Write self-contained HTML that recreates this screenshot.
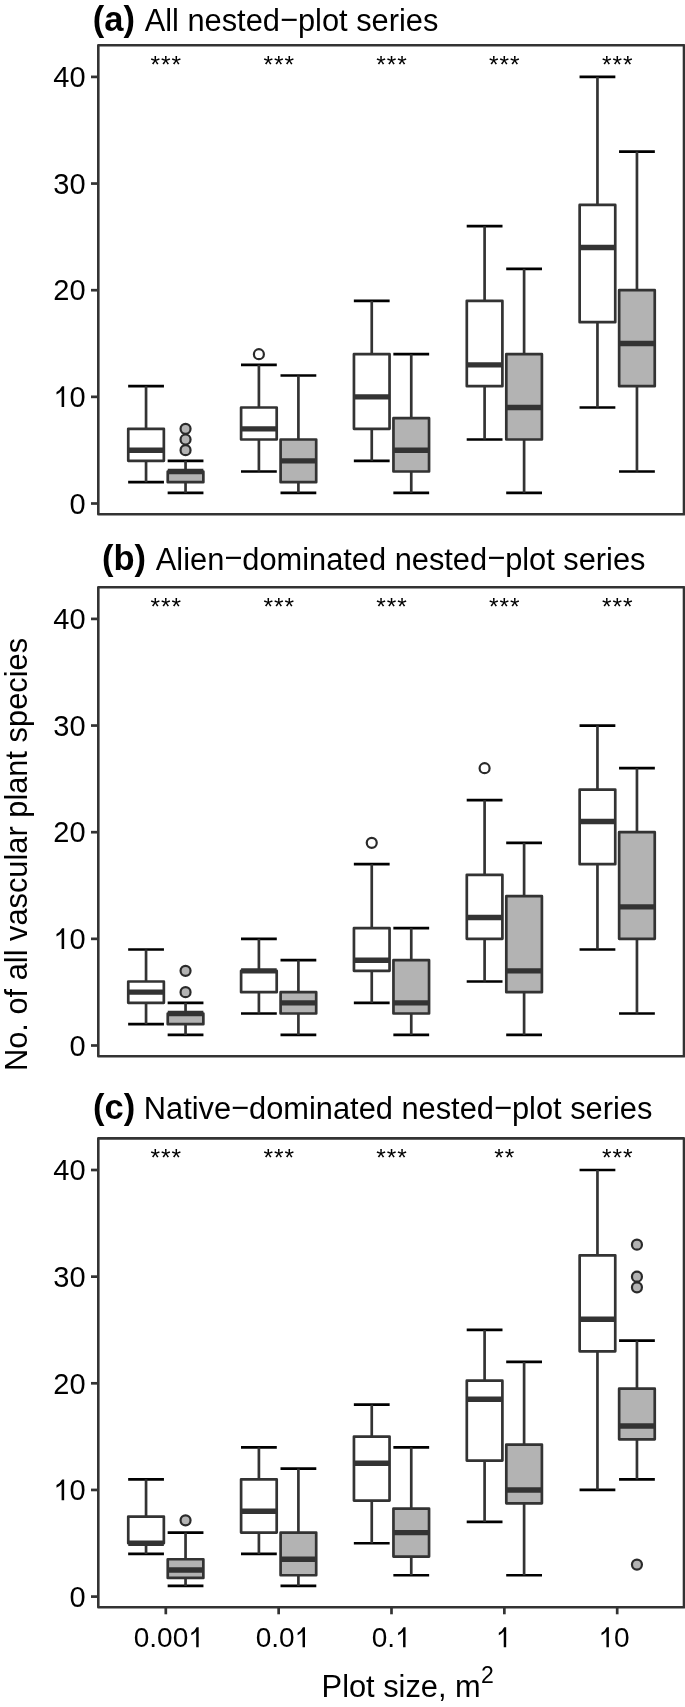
<!DOCTYPE html>
<html><head><meta charset="utf-8"><style>
html,body{margin:0;padding:0;background:#fff;}
svg{display:block;will-change:transform;}
</style></head><body>
<svg width="685" height="1707" viewBox="0 0 685 1707">
<rect x="0" y="0" width="685" height="1707" fill="#ffffff"/>
<line x1="128.15" x2="163.95" y1="386.19" y2="386.19" stroke="#000" stroke-width="2.7"/>
<line x1="128.15" x2="163.95" y1="482.17" y2="482.17" stroke="#000" stroke-width="2.7"/>
<line x1="146.05" x2="146.05" y1="386.19" y2="428.85" stroke="#333333" stroke-width="2.7"/>
<line x1="146.05" x2="146.05" y1="460.84" y2="482.17" stroke="#333333" stroke-width="2.7"/>
<rect x="128.25" y="428.85" width="35.6" height="32" fill="#ffffff" stroke="#333333" stroke-width="2.7" stroke-linejoin="round"/>
<line x1="128.25" x2="163.85" y1="450.18" y2="450.18" stroke="#333333" stroke-width="5.4"/>
<line x1="167.65" x2="203.45" y1="460.84" y2="460.84" stroke="#000" stroke-width="2.7"/>
<line x1="167.65" x2="203.45" y1="492.83" y2="492.83" stroke="#000" stroke-width="2.7"/>
<line x1="185.55" x2="185.55" y1="460.84" y2="471.5" stroke="#333333" stroke-width="2.7"/>
<line x1="185.55" x2="185.55" y1="482.17" y2="492.83" stroke="#333333" stroke-width="2.7"/>
<rect x="167.75" y="471.5" width="35.6" height="10.67" fill="#B3B3B3" stroke="#333333" stroke-width="2.7" stroke-linejoin="round"/>
<line x1="167.75" x2="203.35" y1="471.5" y2="471.5" stroke="#333333" stroke-width="5.4"/>
<circle cx="185.55" cy="450.18" r="5.0" fill="#B3B3B3" stroke="#2a2a2a" stroke-width="2.2"/>
<circle cx="185.55" cy="439.51" r="5.0" fill="#B3B3B3" stroke="#2a2a2a" stroke-width="2.2"/>
<circle cx="185.55" cy="428.85" r="5.0" fill="#B3B3B3" stroke="#2a2a2a" stroke-width="2.2"/>
<text x="155.3" y="73.25" text-anchor="middle" font-family="Liberation Sans" font-size="24.5">*</text>
<text x="165.8" y="73.25" text-anchor="middle" font-family="Liberation Sans" font-size="24.5">*</text>
<text x="176.3" y="73.25" text-anchor="middle" font-family="Liberation Sans" font-size="24.5">*</text>
<line x1="241" x2="276.8" y1="364.86" y2="364.86" stroke="#000" stroke-width="2.7"/>
<line x1="241" x2="276.8" y1="471.5" y2="471.5" stroke="#000" stroke-width="2.7"/>
<line x1="258.9" x2="258.9" y1="364.86" y2="407.51" stroke="#333333" stroke-width="2.7"/>
<line x1="258.9" x2="258.9" y1="439.51" y2="471.5" stroke="#333333" stroke-width="2.7"/>
<rect x="241.1" y="407.51" width="35.6" height="32" fill="#ffffff" stroke="#333333" stroke-width="2.7" stroke-linejoin="round"/>
<line x1="241.1" x2="276.7" y1="428.85" y2="428.85" stroke="#333333" stroke-width="5.4"/>
<circle cx="258.9" cy="354.19" r="5.0" fill="#ffffff" stroke="#2a2a2a" stroke-width="2.2"/>
<line x1="280.5" x2="316.3" y1="375.52" y2="375.52" stroke="#000" stroke-width="2.7"/>
<line x1="280.5" x2="316.3" y1="492.83" y2="492.83" stroke="#000" stroke-width="2.7"/>
<line x1="298.4" x2="298.4" y1="375.52" y2="439.51" stroke="#333333" stroke-width="2.7"/>
<line x1="298.4" x2="298.4" y1="482.17" y2="492.83" stroke="#333333" stroke-width="2.7"/>
<rect x="280.6" y="439.51" width="35.6" height="42.66" fill="#B3B3B3" stroke="#333333" stroke-width="2.7" stroke-linejoin="round"/>
<line x1="280.6" x2="316.2" y1="460.84" y2="460.84" stroke="#333333" stroke-width="5.4"/>
<text x="268.15" y="73.25" text-anchor="middle" font-family="Liberation Sans" font-size="24.5">*</text>
<text x="278.65" y="73.25" text-anchor="middle" font-family="Liberation Sans" font-size="24.5">*</text>
<text x="289.15" y="73.25" text-anchor="middle" font-family="Liberation Sans" font-size="24.5">*</text>
<line x1="353.85" x2="389.65" y1="300.87" y2="300.87" stroke="#000" stroke-width="2.7"/>
<line x1="353.85" x2="389.65" y1="460.84" y2="460.84" stroke="#000" stroke-width="2.7"/>
<line x1="371.75" x2="371.75" y1="300.87" y2="354.19" stroke="#333333" stroke-width="2.7"/>
<line x1="371.75" x2="371.75" y1="428.85" y2="460.84" stroke="#333333" stroke-width="2.7"/>
<rect x="353.95" y="354.19" width="35.6" height="74.66" fill="#ffffff" stroke="#333333" stroke-width="2.7" stroke-linejoin="round"/>
<line x1="353.95" x2="389.55" y1="396.85" y2="396.85" stroke="#333333" stroke-width="5.4"/>
<line x1="393.35" x2="429.15" y1="354.19" y2="354.19" stroke="#000" stroke-width="2.7"/>
<line x1="393.35" x2="429.15" y1="492.83" y2="492.83" stroke="#000" stroke-width="2.7"/>
<line x1="411.25" x2="411.25" y1="354.19" y2="418.18" stroke="#333333" stroke-width="2.7"/>
<line x1="411.25" x2="411.25" y1="471.5" y2="492.83" stroke="#333333" stroke-width="2.7"/>
<rect x="393.45" y="418.18" width="35.6" height="53.32" fill="#B3B3B3" stroke="#333333" stroke-width="2.7" stroke-linejoin="round"/>
<line x1="393.45" x2="429.05" y1="450.18" y2="450.18" stroke="#333333" stroke-width="5.4"/>
<text x="381" y="73.25" text-anchor="middle" font-family="Liberation Sans" font-size="24.5">*</text>
<text x="391.5" y="73.25" text-anchor="middle" font-family="Liberation Sans" font-size="24.5">*</text>
<text x="402" y="73.25" text-anchor="middle" font-family="Liberation Sans" font-size="24.5">*</text>
<line x1="466.7" x2="502.5" y1="226.21" y2="226.21" stroke="#000" stroke-width="2.7"/>
<line x1="466.7" x2="502.5" y1="439.51" y2="439.51" stroke="#000" stroke-width="2.7"/>
<line x1="484.6" x2="484.6" y1="226.21" y2="300.87" stroke="#333333" stroke-width="2.7"/>
<line x1="484.6" x2="484.6" y1="386.19" y2="439.51" stroke="#333333" stroke-width="2.7"/>
<rect x="466.8" y="300.87" width="35.6" height="85.32" fill="#ffffff" stroke="#333333" stroke-width="2.7" stroke-linejoin="round"/>
<line x1="466.8" x2="502.4" y1="364.86" y2="364.86" stroke="#333333" stroke-width="5.4"/>
<line x1="506.2" x2="542" y1="268.87" y2="268.87" stroke="#000" stroke-width="2.7"/>
<line x1="506.2" x2="542" y1="492.83" y2="492.83" stroke="#000" stroke-width="2.7"/>
<line x1="524.1" x2="524.1" y1="268.87" y2="354.19" stroke="#333333" stroke-width="2.7"/>
<line x1="524.1" x2="524.1" y1="439.51" y2="492.83" stroke="#333333" stroke-width="2.7"/>
<rect x="506.3" y="354.19" width="35.6" height="85.32" fill="#B3B3B3" stroke="#333333" stroke-width="2.7" stroke-linejoin="round"/>
<line x1="506.3" x2="541.9" y1="407.51" y2="407.51" stroke="#333333" stroke-width="5.4"/>
<text x="493.85" y="73.25" text-anchor="middle" font-family="Liberation Sans" font-size="24.5">*</text>
<text x="504.35" y="73.25" text-anchor="middle" font-family="Liberation Sans" font-size="24.5">*</text>
<text x="514.85" y="73.25" text-anchor="middle" font-family="Liberation Sans" font-size="24.5">*</text>
<line x1="579.55" x2="615.35" y1="76.9" y2="76.9" stroke="#000" stroke-width="2.7"/>
<line x1="579.55" x2="615.35" y1="407.51" y2="407.51" stroke="#000" stroke-width="2.7"/>
<line x1="597.45" x2="597.45" y1="76.9" y2="204.88" stroke="#333333" stroke-width="2.7"/>
<line x1="597.45" x2="597.45" y1="322.2" y2="407.51" stroke="#333333" stroke-width="2.7"/>
<rect x="579.65" y="204.88" width="35.6" height="117.32" fill="#ffffff" stroke="#333333" stroke-width="2.7" stroke-linejoin="round"/>
<line x1="579.65" x2="615.25" y1="247.54" y2="247.54" stroke="#333333" stroke-width="5.4"/>
<line x1="619.05" x2="654.85" y1="151.56" y2="151.56" stroke="#000" stroke-width="2.7"/>
<line x1="619.05" x2="654.85" y1="471.5" y2="471.5" stroke="#000" stroke-width="2.7"/>
<line x1="636.95" x2="636.95" y1="151.56" y2="290.2" stroke="#333333" stroke-width="2.7"/>
<line x1="636.95" x2="636.95" y1="386.19" y2="471.5" stroke="#333333" stroke-width="2.7"/>
<rect x="619.15" y="290.2" width="35.6" height="95.98" fill="#B3B3B3" stroke="#333333" stroke-width="2.7" stroke-linejoin="round"/>
<line x1="619.15" x2="654.75" y1="343.52" y2="343.52" stroke="#333333" stroke-width="5.4"/>
<text x="606.7" y="73.25" text-anchor="middle" font-family="Liberation Sans" font-size="24.5">*</text>
<text x="617.2" y="73.25" text-anchor="middle" font-family="Liberation Sans" font-size="24.5">*</text>
<text x="627.7" y="73.25" text-anchor="middle" font-family="Liberation Sans" font-size="24.5">*</text>
<rect x="98.3" y="45.3" width="585.7" height="468.9" fill="none" stroke="#333333" stroke-width="2.6" stroke-linejoin="round"/>
<line x1="91" x2="98.3" y1="503.5" y2="503.5" stroke="#333333" stroke-width="2.7"/>
<text x="69.47" y="513.7" font-family="Liberation Sans" font-size="29">0</text>
<line x1="91" x2="98.3" y1="396.85" y2="396.85" stroke="#333333" stroke-width="2.7"/>
<path transform="translate(53.34,407.05) scale(29)" d="M0.373 0L0.285 0L0.285-0.56Q0.2-0.47 0.109-0.43L0.109-0.52Q0.24-0.58 0.30-0.716L0.373-0.716Z" fill="#000"/>
<text x="69.47" y="407.05" font-family="Liberation Sans" font-size="29">0</text>
<line x1="91" x2="98.3" y1="290.2" y2="290.2" stroke="#333333" stroke-width="2.7"/>
<text x="53.34" y="300.4" font-family="Liberation Sans" font-size="29">2</text>
<text x="69.47" y="300.4" font-family="Liberation Sans" font-size="29">0</text>
<line x1="91" x2="98.3" y1="183.55" y2="183.55" stroke="#333333" stroke-width="2.7"/>
<text x="53.34" y="193.75" font-family="Liberation Sans" font-size="29">3</text>
<text x="69.47" y="193.75" font-family="Liberation Sans" font-size="29">0</text>
<line x1="91" x2="98.3" y1="76.9" y2="76.9" stroke="#333333" stroke-width="2.7"/>
<text x="53.34" y="87.1" font-family="Liberation Sans" font-size="29">4</text>
<text x="69.47" y="87.1" font-family="Liberation Sans" font-size="29">0</text>
<text x="92.8" y="30.65" font-family="Liberation Sans" font-size="34.5" font-weight="bold">(a)</text>
<text x="144.7" y="30.65" font-family="Liberation Sans" font-size="30.8">All nested<tspan dy="-1.1">−</tspan><tspan dy="1.1">plot series</tspan></text>
<line x1="128.15" x2="163.95" y1="949.51" y2="949.51" stroke="#000" stroke-width="2.7"/>
<line x1="128.15" x2="163.95" y1="1024.17" y2="1024.17" stroke="#000" stroke-width="2.7"/>
<line x1="146.05" x2="146.05" y1="949.51" y2="981.51" stroke="#333333" stroke-width="2.7"/>
<line x1="146.05" x2="146.05" y1="1002.84" y2="1024.17" stroke="#333333" stroke-width="2.7"/>
<rect x="128.25" y="981.51" width="35.6" height="21.33" fill="#ffffff" stroke="#333333" stroke-width="2.7" stroke-linejoin="round"/>
<line x1="128.25" x2="163.85" y1="992.17" y2="992.17" stroke="#333333" stroke-width="5.4"/>
<line x1="167.65" x2="203.45" y1="1002.84" y2="1002.84" stroke="#000" stroke-width="2.7"/>
<line x1="167.65" x2="203.45" y1="1034.84" y2="1034.84" stroke="#000" stroke-width="2.7"/>
<line x1="185.55" x2="185.55" y1="1002.84" y2="1013.5" stroke="#333333" stroke-width="2.7"/>
<line x1="185.55" x2="185.55" y1="1024.17" y2="1034.84" stroke="#333333" stroke-width="2.7"/>
<rect x="167.75" y="1013.5" width="35.6" height="10.67" fill="#B3B3B3" stroke="#333333" stroke-width="2.7" stroke-linejoin="round"/>
<line x1="167.75" x2="203.35" y1="1013.5" y2="1013.5" stroke="#333333" stroke-width="5.4"/>
<circle cx="185.55" cy="992.17" r="5.0" fill="#B3B3B3" stroke="#2a2a2a" stroke-width="2.2"/>
<circle cx="185.55" cy="970.85" r="5.0" fill="#B3B3B3" stroke="#2a2a2a" stroke-width="2.2"/>
<text x="155.3" y="615.25" text-anchor="middle" font-family="Liberation Sans" font-size="24.5">*</text>
<text x="165.8" y="615.25" text-anchor="middle" font-family="Liberation Sans" font-size="24.5">*</text>
<text x="176.3" y="615.25" text-anchor="middle" font-family="Liberation Sans" font-size="24.5">*</text>
<line x1="241" x2="276.8" y1="938.85" y2="938.85" stroke="#000" stroke-width="2.7"/>
<line x1="241" x2="276.8" y1="1013.5" y2="1013.5" stroke="#000" stroke-width="2.7"/>
<line x1="258.9" x2="258.9" y1="938.85" y2="970.85" stroke="#333333" stroke-width="2.7"/>
<line x1="258.9" x2="258.9" y1="992.17" y2="1013.5" stroke="#333333" stroke-width="2.7"/>
<rect x="241.1" y="970.85" width="35.6" height="21.33" fill="#ffffff" stroke="#333333" stroke-width="2.7" stroke-linejoin="round"/>
<line x1="241.1" x2="276.7" y1="970.85" y2="970.85" stroke="#333333" stroke-width="5.4"/>
<line x1="280.5" x2="316.3" y1="960.18" y2="960.18" stroke="#000" stroke-width="2.7"/>
<line x1="280.5" x2="316.3" y1="1034.84" y2="1034.84" stroke="#000" stroke-width="2.7"/>
<line x1="298.4" x2="298.4" y1="960.18" y2="992.17" stroke="#333333" stroke-width="2.7"/>
<line x1="298.4" x2="298.4" y1="1013.5" y2="1034.84" stroke="#333333" stroke-width="2.7"/>
<rect x="280.6" y="992.17" width="35.6" height="21.33" fill="#B3B3B3" stroke="#333333" stroke-width="2.7" stroke-linejoin="round"/>
<line x1="280.6" x2="316.2" y1="1002.84" y2="1002.84" stroke="#333333" stroke-width="5.4"/>
<text x="268.15" y="615.25" text-anchor="middle" font-family="Liberation Sans" font-size="24.5">*</text>
<text x="278.65" y="615.25" text-anchor="middle" font-family="Liberation Sans" font-size="24.5">*</text>
<text x="289.15" y="615.25" text-anchor="middle" font-family="Liberation Sans" font-size="24.5">*</text>
<line x1="353.85" x2="389.65" y1="864.2" y2="864.2" stroke="#000" stroke-width="2.7"/>
<line x1="353.85" x2="389.65" y1="1002.84" y2="1002.84" stroke="#000" stroke-width="2.7"/>
<line x1="371.75" x2="371.75" y1="864.2" y2="928.18" stroke="#333333" stroke-width="2.7"/>
<line x1="371.75" x2="371.75" y1="970.85" y2="1002.84" stroke="#333333" stroke-width="2.7"/>
<rect x="353.95" y="928.18" width="35.6" height="42.66" fill="#ffffff" stroke="#333333" stroke-width="2.7" stroke-linejoin="round"/>
<line x1="353.95" x2="389.55" y1="960.18" y2="960.18" stroke="#333333" stroke-width="5.4"/>
<circle cx="371.75" cy="842.87" r="5.0" fill="#ffffff" stroke="#2a2a2a" stroke-width="2.2"/>
<line x1="393.35" x2="429.15" y1="928.18" y2="928.18" stroke="#000" stroke-width="2.7"/>
<line x1="393.35" x2="429.15" y1="1034.84" y2="1034.84" stroke="#000" stroke-width="2.7"/>
<line x1="411.25" x2="411.25" y1="928.18" y2="960.18" stroke="#333333" stroke-width="2.7"/>
<line x1="411.25" x2="411.25" y1="1013.5" y2="1034.84" stroke="#333333" stroke-width="2.7"/>
<rect x="393.45" y="960.18" width="35.6" height="53.32" fill="#B3B3B3" stroke="#333333" stroke-width="2.7" stroke-linejoin="round"/>
<line x1="393.45" x2="429.05" y1="1002.84" y2="1002.84" stroke="#333333" stroke-width="5.4"/>
<text x="381" y="615.25" text-anchor="middle" font-family="Liberation Sans" font-size="24.5">*</text>
<text x="391.5" y="615.25" text-anchor="middle" font-family="Liberation Sans" font-size="24.5">*</text>
<text x="402" y="615.25" text-anchor="middle" font-family="Liberation Sans" font-size="24.5">*</text>
<line x1="466.7" x2="502.5" y1="800.21" y2="800.21" stroke="#000" stroke-width="2.7"/>
<line x1="466.7" x2="502.5" y1="981.51" y2="981.51" stroke="#000" stroke-width="2.7"/>
<line x1="484.6" x2="484.6" y1="800.21" y2="874.86" stroke="#333333" stroke-width="2.7"/>
<line x1="484.6" x2="484.6" y1="938.85" y2="981.51" stroke="#333333" stroke-width="2.7"/>
<rect x="466.8" y="874.86" width="35.6" height="63.99" fill="#ffffff" stroke="#333333" stroke-width="2.7" stroke-linejoin="round"/>
<line x1="466.8" x2="502.4" y1="917.52" y2="917.52" stroke="#333333" stroke-width="5.4"/>
<circle cx="484.6" cy="768.21" r="5.0" fill="#ffffff" stroke="#2a2a2a" stroke-width="2.2"/>
<line x1="506.2" x2="542" y1="842.87" y2="842.87" stroke="#000" stroke-width="2.7"/>
<line x1="506.2" x2="542" y1="1034.84" y2="1034.84" stroke="#000" stroke-width="2.7"/>
<line x1="524.1" x2="524.1" y1="842.87" y2="896.19" stroke="#333333" stroke-width="2.7"/>
<line x1="524.1" x2="524.1" y1="992.17" y2="1034.84" stroke="#333333" stroke-width="2.7"/>
<rect x="506.3" y="896.19" width="35.6" height="95.98" fill="#B3B3B3" stroke="#333333" stroke-width="2.7" stroke-linejoin="round"/>
<line x1="506.3" x2="541.9" y1="970.85" y2="970.85" stroke="#333333" stroke-width="5.4"/>
<text x="493.85" y="615.25" text-anchor="middle" font-family="Liberation Sans" font-size="24.5">*</text>
<text x="504.35" y="615.25" text-anchor="middle" font-family="Liberation Sans" font-size="24.5">*</text>
<text x="514.85" y="615.25" text-anchor="middle" font-family="Liberation Sans" font-size="24.5">*</text>
<line x1="579.55" x2="615.35" y1="725.55" y2="725.55" stroke="#000" stroke-width="2.7"/>
<line x1="579.55" x2="615.35" y1="949.51" y2="949.51" stroke="#000" stroke-width="2.7"/>
<line x1="597.45" x2="597.45" y1="725.55" y2="789.54" stroke="#333333" stroke-width="2.7"/>
<line x1="597.45" x2="597.45" y1="864.2" y2="949.51" stroke="#333333" stroke-width="2.7"/>
<rect x="579.65" y="789.54" width="35.6" height="74.66" fill="#ffffff" stroke="#333333" stroke-width="2.7" stroke-linejoin="round"/>
<line x1="579.65" x2="615.25" y1="821.54" y2="821.54" stroke="#333333" stroke-width="5.4"/>
<line x1="619.05" x2="654.85" y1="768.21" y2="768.21" stroke="#000" stroke-width="2.7"/>
<line x1="619.05" x2="654.85" y1="1013.5" y2="1013.5" stroke="#000" stroke-width="2.7"/>
<line x1="636.95" x2="636.95" y1="768.21" y2="832.2" stroke="#333333" stroke-width="2.7"/>
<line x1="636.95" x2="636.95" y1="938.85" y2="1013.5" stroke="#333333" stroke-width="2.7"/>
<rect x="619.15" y="832.2" width="35.6" height="106.65" fill="#B3B3B3" stroke="#333333" stroke-width="2.7" stroke-linejoin="round"/>
<line x1="619.15" x2="654.75" y1="906.86" y2="906.86" stroke="#333333" stroke-width="5.4"/>
<text x="606.7" y="615.25" text-anchor="middle" font-family="Liberation Sans" font-size="24.5">*</text>
<text x="617.2" y="615.25" text-anchor="middle" font-family="Liberation Sans" font-size="24.5">*</text>
<text x="627.7" y="615.25" text-anchor="middle" font-family="Liberation Sans" font-size="24.5">*</text>
<rect x="98.3" y="587.3" width="585.7" height="468.9" fill="none" stroke="#333333" stroke-width="2.6" stroke-linejoin="round"/>
<line x1="91" x2="98.3" y1="1045.5" y2="1045.5" stroke="#333333" stroke-width="2.7"/>
<text x="69.47" y="1055.7" font-family="Liberation Sans" font-size="29">0</text>
<line x1="91" x2="98.3" y1="938.85" y2="938.85" stroke="#333333" stroke-width="2.7"/>
<path transform="translate(53.34,949.05) scale(29)" d="M0.373 0L0.285 0L0.285-0.56Q0.2-0.47 0.109-0.43L0.109-0.52Q0.24-0.58 0.30-0.716L0.373-0.716Z" fill="#000"/>
<text x="69.47" y="949.05" font-family="Liberation Sans" font-size="29">0</text>
<line x1="91" x2="98.3" y1="832.2" y2="832.2" stroke="#333333" stroke-width="2.7"/>
<text x="53.34" y="842.4" font-family="Liberation Sans" font-size="29">2</text>
<text x="69.47" y="842.4" font-family="Liberation Sans" font-size="29">0</text>
<line x1="91" x2="98.3" y1="725.55" y2="725.55" stroke="#333333" stroke-width="2.7"/>
<text x="53.34" y="735.75" font-family="Liberation Sans" font-size="29">3</text>
<text x="69.47" y="735.75" font-family="Liberation Sans" font-size="29">0</text>
<line x1="91" x2="98.3" y1="618.9" y2="618.9" stroke="#333333" stroke-width="2.7"/>
<text x="53.34" y="629.1" font-family="Liberation Sans" font-size="29">4</text>
<text x="69.47" y="629.1" font-family="Liberation Sans" font-size="29">0</text>
<text x="102" y="569.5" font-family="Liberation Sans" font-size="34.5" font-weight="bold">(b)</text>
<text x="155.8" y="569.5" font-family="Liberation Sans" font-size="30.8">Alien<tspan dy="-1.1">−</tspan><tspan dy="1.1">dominated nested</tspan><tspan dy="-1.1">−</tspan><tspan dy="1.1">plot series</tspan></text>
<line x1="128.15" x2="163.95" y1="1479.28" y2="1479.28" stroke="#000" stroke-width="2.7"/>
<line x1="128.15" x2="163.95" y1="1553.94" y2="1553.94" stroke="#000" stroke-width="2.7"/>
<line x1="146.05" x2="146.05" y1="1479.28" y2="1516.61" stroke="#333333" stroke-width="2.7"/>
<line x1="146.05" x2="146.05" y1="1543.27" y2="1553.94" stroke="#333333" stroke-width="2.7"/>
<rect x="128.25" y="1516.61" width="35.6" height="26.66" fill="#ffffff" stroke="#333333" stroke-width="2.7" stroke-linejoin="round"/>
<line x1="128.25" x2="163.85" y1="1543.27" y2="1543.27" stroke="#333333" stroke-width="5.4"/>
<line x1="167.65" x2="203.45" y1="1532.61" y2="1532.61" stroke="#000" stroke-width="2.7"/>
<line x1="167.65" x2="203.45" y1="1585.93" y2="1585.93" stroke="#000" stroke-width="2.7"/>
<line x1="185.55" x2="185.55" y1="1532.61" y2="1559.27" stroke="#333333" stroke-width="2.7"/>
<line x1="185.55" x2="185.55" y1="1577.94" y2="1585.93" stroke="#333333" stroke-width="2.7"/>
<rect x="167.75" y="1559.27" width="35.6" height="18.66" fill="#B3B3B3" stroke="#333333" stroke-width="2.7" stroke-linejoin="round"/>
<line x1="167.75" x2="203.35" y1="1569.94" y2="1569.94" stroke="#333333" stroke-width="5.4"/>
<circle cx="185.55" cy="1520.35" r="5.0" fill="#B3B3B3" stroke="#2a2a2a" stroke-width="2.2"/>
<text x="155.3" y="1166.35" text-anchor="middle" font-family="Liberation Sans" font-size="24.5">*</text>
<text x="165.8" y="1166.35" text-anchor="middle" font-family="Liberation Sans" font-size="24.5">*</text>
<text x="176.3" y="1166.35" text-anchor="middle" font-family="Liberation Sans" font-size="24.5">*</text>
<line x1="241" x2="276.8" y1="1447.29" y2="1447.29" stroke="#000" stroke-width="2.7"/>
<line x1="241" x2="276.8" y1="1553.94" y2="1553.94" stroke="#000" stroke-width="2.7"/>
<line x1="258.9" x2="258.9" y1="1447.29" y2="1479.28" stroke="#333333" stroke-width="2.7"/>
<line x1="258.9" x2="258.9" y1="1532.61" y2="1553.94" stroke="#333333" stroke-width="2.7"/>
<rect x="241.1" y="1479.28" width="35.6" height="53.33" fill="#ffffff" stroke="#333333" stroke-width="2.7" stroke-linejoin="round"/>
<line x1="241.1" x2="276.7" y1="1511.28" y2="1511.28" stroke="#333333" stroke-width="5.4"/>
<line x1="280.5" x2="316.3" y1="1468.62" y2="1468.62" stroke="#000" stroke-width="2.7"/>
<line x1="280.5" x2="316.3" y1="1585.93" y2="1585.93" stroke="#000" stroke-width="2.7"/>
<line x1="298.4" x2="298.4" y1="1468.62" y2="1532.61" stroke="#333333" stroke-width="2.7"/>
<line x1="298.4" x2="298.4" y1="1575.27" y2="1585.93" stroke="#333333" stroke-width="2.7"/>
<rect x="280.6" y="1532.61" width="35.6" height="42.66" fill="#B3B3B3" stroke="#333333" stroke-width="2.7" stroke-linejoin="round"/>
<line x1="280.6" x2="316.2" y1="1559.27" y2="1559.27" stroke="#333333" stroke-width="5.4"/>
<text x="268.15" y="1166.35" text-anchor="middle" font-family="Liberation Sans" font-size="24.5">*</text>
<text x="278.65" y="1166.35" text-anchor="middle" font-family="Liberation Sans" font-size="24.5">*</text>
<text x="289.15" y="1166.35" text-anchor="middle" font-family="Liberation Sans" font-size="24.5">*</text>
<line x1="353.85" x2="389.65" y1="1404.63" y2="1404.63" stroke="#000" stroke-width="2.7"/>
<line x1="353.85" x2="389.65" y1="1543.27" y2="1543.27" stroke="#000" stroke-width="2.7"/>
<line x1="371.75" x2="371.75" y1="1404.63" y2="1436.62" stroke="#333333" stroke-width="2.7"/>
<line x1="371.75" x2="371.75" y1="1500.62" y2="1543.27" stroke="#333333" stroke-width="2.7"/>
<rect x="353.95" y="1436.62" width="35.6" height="63.99" fill="#ffffff" stroke="#333333" stroke-width="2.7" stroke-linejoin="round"/>
<line x1="353.95" x2="389.55" y1="1463.29" y2="1463.29" stroke="#333333" stroke-width="5.4"/>
<line x1="393.35" x2="429.15" y1="1447.29" y2="1447.29" stroke="#000" stroke-width="2.7"/>
<line x1="393.35" x2="429.15" y1="1575.27" y2="1575.27" stroke="#000" stroke-width="2.7"/>
<line x1="411.25" x2="411.25" y1="1447.29" y2="1508.61" stroke="#333333" stroke-width="2.7"/>
<line x1="411.25" x2="411.25" y1="1556.61" y2="1575.27" stroke="#333333" stroke-width="2.7"/>
<rect x="393.45" y="1508.61" width="35.6" height="47.99" fill="#B3B3B3" stroke="#333333" stroke-width="2.7" stroke-linejoin="round"/>
<line x1="393.45" x2="429.05" y1="1532.61" y2="1532.61" stroke="#333333" stroke-width="5.4"/>
<text x="381" y="1166.35" text-anchor="middle" font-family="Liberation Sans" font-size="24.5">*</text>
<text x="391.5" y="1166.35" text-anchor="middle" font-family="Liberation Sans" font-size="24.5">*</text>
<text x="402" y="1166.35" text-anchor="middle" font-family="Liberation Sans" font-size="24.5">*</text>
<line x1="466.7" x2="502.5" y1="1329.97" y2="1329.97" stroke="#000" stroke-width="2.7"/>
<line x1="466.7" x2="502.5" y1="1521.94" y2="1521.94" stroke="#000" stroke-width="2.7"/>
<line x1="484.6" x2="484.6" y1="1329.97" y2="1380.63" stroke="#333333" stroke-width="2.7"/>
<line x1="484.6" x2="484.6" y1="1460.62" y2="1521.94" stroke="#333333" stroke-width="2.7"/>
<rect x="466.8" y="1380.63" width="35.6" height="79.99" fill="#ffffff" stroke="#333333" stroke-width="2.7" stroke-linejoin="round"/>
<line x1="466.8" x2="502.4" y1="1399.3" y2="1399.3" stroke="#333333" stroke-width="5.4"/>
<line x1="506.2" x2="542" y1="1361.97" y2="1361.97" stroke="#000" stroke-width="2.7"/>
<line x1="506.2" x2="542" y1="1575.27" y2="1575.27" stroke="#000" stroke-width="2.7"/>
<line x1="524.1" x2="524.1" y1="1361.97" y2="1444.62" stroke="#333333" stroke-width="2.7"/>
<line x1="524.1" x2="524.1" y1="1503.28" y2="1575.27" stroke="#333333" stroke-width="2.7"/>
<rect x="506.3" y="1444.62" width="35.6" height="58.66" fill="#B3B3B3" stroke="#333333" stroke-width="2.7" stroke-linejoin="round"/>
<line x1="506.3" x2="541.9" y1="1489.95" y2="1489.95" stroke="#333333" stroke-width="5.4"/>
<text x="499.1" y="1166.35" text-anchor="middle" font-family="Liberation Sans" font-size="24.5">*</text>
<text x="509.6" y="1166.35" text-anchor="middle" font-family="Liberation Sans" font-size="24.5">*</text>
<line x1="579.55" x2="615.35" y1="1170" y2="1170" stroke="#000" stroke-width="2.7"/>
<line x1="579.55" x2="615.35" y1="1489.95" y2="1489.95" stroke="#000" stroke-width="2.7"/>
<line x1="597.45" x2="597.45" y1="1170" y2="1255.32" stroke="#333333" stroke-width="2.7"/>
<line x1="597.45" x2="597.45" y1="1351.3" y2="1489.95" stroke="#333333" stroke-width="2.7"/>
<rect x="579.65" y="1255.32" width="35.6" height="95.98" fill="#ffffff" stroke="#333333" stroke-width="2.7" stroke-linejoin="round"/>
<line x1="579.65" x2="615.25" y1="1319.31" y2="1319.31" stroke="#333333" stroke-width="5.4"/>
<line x1="619.05" x2="654.85" y1="1340.64" y2="1340.64" stroke="#000" stroke-width="2.7"/>
<line x1="619.05" x2="654.85" y1="1479.28" y2="1479.28" stroke="#000" stroke-width="2.7"/>
<line x1="636.95" x2="636.95" y1="1340.64" y2="1388.63" stroke="#333333" stroke-width="2.7"/>
<line x1="636.95" x2="636.95" y1="1439.29" y2="1479.28" stroke="#333333" stroke-width="2.7"/>
<rect x="619.15" y="1388.63" width="35.6" height="50.66" fill="#B3B3B3" stroke="#333333" stroke-width="2.7" stroke-linejoin="round"/>
<line x1="619.15" x2="654.75" y1="1425.96" y2="1425.96" stroke="#333333" stroke-width="5.4"/>
<circle cx="636.95" cy="1564.61" r="5.0" fill="#B3B3B3" stroke="#2a2a2a" stroke-width="2.2"/>
<circle cx="636.95" cy="1287.32" r="5.0" fill="#B3B3B3" stroke="#2a2a2a" stroke-width="2.2"/>
<circle cx="636.95" cy="1276.65" r="5.0" fill="#B3B3B3" stroke="#2a2a2a" stroke-width="2.2"/>
<circle cx="636.95" cy="1244.65" r="5.0" fill="#B3B3B3" stroke="#2a2a2a" stroke-width="2.2"/>
<text x="606.7" y="1166.35" text-anchor="middle" font-family="Liberation Sans" font-size="24.5">*</text>
<text x="617.2" y="1166.35" text-anchor="middle" font-family="Liberation Sans" font-size="24.5">*</text>
<text x="627.7" y="1166.35" text-anchor="middle" font-family="Liberation Sans" font-size="24.5">*</text>
<rect x="98.3" y="1138.4" width="585.7" height="468.9" fill="none" stroke="#333333" stroke-width="2.6" stroke-linejoin="round"/>
<line x1="91" x2="98.3" y1="1596.6" y2="1596.6" stroke="#333333" stroke-width="2.7"/>
<text x="69.47" y="1606.8" font-family="Liberation Sans" font-size="29">0</text>
<line x1="91" x2="98.3" y1="1489.95" y2="1489.95" stroke="#333333" stroke-width="2.7"/>
<path transform="translate(53.34,1500.15) scale(29)" d="M0.373 0L0.285 0L0.285-0.56Q0.2-0.47 0.109-0.43L0.109-0.52Q0.24-0.58 0.30-0.716L0.373-0.716Z" fill="#000"/>
<text x="69.47" y="1500.15" font-family="Liberation Sans" font-size="29">0</text>
<line x1="91" x2="98.3" y1="1383.3" y2="1383.3" stroke="#333333" stroke-width="2.7"/>
<text x="53.34" y="1393.5" font-family="Liberation Sans" font-size="29">2</text>
<text x="69.47" y="1393.5" font-family="Liberation Sans" font-size="29">0</text>
<line x1="91" x2="98.3" y1="1276.65" y2="1276.65" stroke="#333333" stroke-width="2.7"/>
<text x="53.34" y="1286.85" font-family="Liberation Sans" font-size="29">3</text>
<text x="69.47" y="1286.85" font-family="Liberation Sans" font-size="29">0</text>
<line x1="91" x2="98.3" y1="1170" y2="1170" stroke="#333333" stroke-width="2.7"/>
<text x="53.34" y="1180.2" font-family="Liberation Sans" font-size="29">4</text>
<text x="69.47" y="1180.2" font-family="Liberation Sans" font-size="29">0</text>
<text x="93.1" y="1118.9" font-family="Liberation Sans" font-size="34.5" font-weight="bold">(c)</text>
<text x="143.8" y="1118.9" font-family="Liberation Sans" font-size="30.8">Native<tspan dy="-1.1">−</tspan><tspan dy="1.1">dominated nested</tspan><tspan dy="-1.1">−</tspan><tspan dy="1.1">plot series</tspan></text>
<line x1="165.8" x2="165.8" y1="1607.3" y2="1614.3" stroke="#333333" stroke-width="2.7"/>
<text x="133.74" y="1647.2" font-family="Liberation Sans" font-size="28">0</text>
<text x="149.31" y="1647.2" font-family="Liberation Sans" font-size="28">.</text>
<text x="157.09" y="1647.2" font-family="Liberation Sans" font-size="28">0</text>
<text x="172.66" y="1647.2" font-family="Liberation Sans" font-size="28">0</text>
<path transform="translate(188.23,1647.2) scale(28)" d="M0.373 0L0.285 0L0.285-0.56Q0.2-0.47 0.109-0.43L0.109-0.52Q0.24-0.58 0.30-0.716L0.373-0.716Z" fill="#000"/>
<line x1="278.65" x2="278.65" y1="1607.3" y2="1614.3" stroke="#333333" stroke-width="2.7"/>
<text x="255.64" y="1647.2" font-family="Liberation Sans" font-size="28">0</text>
<text x="271.21" y="1647.2" font-family="Liberation Sans" font-size="28">.</text>
<text x="278.99" y="1647.2" font-family="Liberation Sans" font-size="28">0</text>
<path transform="translate(294.56,1647.2) scale(28)" d="M0.373 0L0.285 0L0.285-0.56Q0.2-0.47 0.109-0.43L0.109-0.52Q0.24-0.58 0.30-0.716L0.373-0.716Z" fill="#000"/>
<line x1="391.5" x2="391.5" y1="1607.3" y2="1614.3" stroke="#333333" stroke-width="2.7"/>
<text x="371.74" y="1647.2" font-family="Liberation Sans" font-size="28">0</text>
<text x="387.31" y="1647.2" font-family="Liberation Sans" font-size="28">.</text>
<path transform="translate(395.09,1647.2) scale(28)" d="M0.373 0L0.285 0L0.285-0.56Q0.2-0.47 0.109-0.43L0.109-0.52Q0.24-0.58 0.30-0.716L0.373-0.716Z" fill="#000"/>
<line x1="504.35" x2="504.35" y1="1607.3" y2="1614.3" stroke="#333333" stroke-width="2.7"/>
<path transform="translate(495.75,1647.2) scale(28)" d="M0.373 0L0.285 0L0.285-0.56Q0.2-0.47 0.109-0.43L0.109-0.52Q0.24-0.58 0.30-0.716L0.373-0.716Z" fill="#000"/>
<line x1="617.2" x2="617.2" y1="1607.3" y2="1614.3" stroke="#333333" stroke-width="2.7"/>
<path transform="translate(598.45,1647.2) scale(28)" d="M0.373 0L0.285 0L0.285-0.56Q0.2-0.47 0.109-0.43L0.109-0.52Q0.24-0.58 0.30-0.716L0.373-0.716Z" fill="#000"/>
<text x="614.02" y="1647.2" font-family="Liberation Sans" font-size="28">0</text>
<text x="321.6" y="1697" font-family="Liberation Sans" font-size="30.8">Plot size, m</text>
<text x="481" y="1683.4" font-family="Liberation Sans" font-size="23">2</text>
<text transform="translate(26.9,854.5) rotate(-90)" text-anchor="middle" font-family="Liberation Sans" font-size="30.8">No. of all vascular plant species</text>
</svg>
</body></html>
